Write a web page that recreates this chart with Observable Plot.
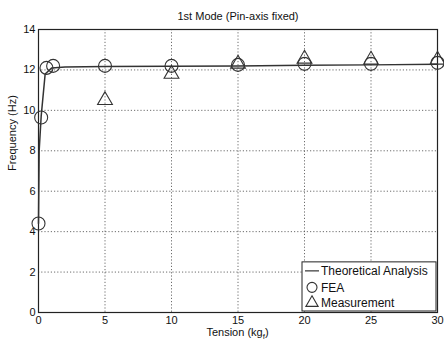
<!DOCTYPE html>
<html>
<head>
<meta charset="utf-8">
<script src="https://cdn.jsdelivr.net/npm/d3@7"></script>
<script src="https://cdn.jsdelivr.net/npm/@observablehq/plot@0.6"></script>
<style>
  html, body { margin: 0; padding: 0; background: #fff; }
  #chart svg { font-family: "Liberation Sans", Arial, sans-serif; }
</style>
</head>
<body>
<div id="chart"></div>
<script>
const title = "1st Mode (Pin-axis fixed)";
const xLabel = "Tension (kg";
const xLabelSub = "f";
const yLabel = "Frequency (Hz)";
const xTicks = [0, 5, 10, 15, 20, 25, 30];
const yTicks = [0, 2, 4, 6, 8, 10, 12, 14];

const theoryT = [0, 0.05, 0.2, 0.5, 1, 2, 5, 10, 15, 20, 25, 30];
const theoryF = [4.4, 8.0, 9.7, 11.8, 12.1, 12.15, 12.17, 12.18, 12.2, 12.23, 12.25, 12.28];

const feaT = [0, 0.2, 0.6, 1.1, 5, 10, 15, 20, 25, 30];
const feaF = [4.4, 9.65, 12.1, 12.2, 12.2, 12.2, 12.25, 12.3, 12.3, 12.35];

const measT = [5, 10, 15, 20, 25, 30];
const measF = [10.5, 11.8, 12.3, 12.55, 12.5, 12.5];

const legendLabels = ["Theoretical Analysis", "FEA", "Measurement"];

const theory = theoryT.map((t, i) => ({t, f: theoryF[i]}));
const fea = feaT.map((t, i) => ({t, f: feaF[i]}));
const meas = measT.map((t, i) => ({t, f: measF[i]}));

const plot = Plot.plot({
  width: 444,
  height: 343,
  marginLeft: 38,
  marginRight: 7,
  marginTop: 29,
  marginBottom: 31,
  style: {fontSize: "11px", fontFamily: "Liberation Sans, Arial, sans-serif", color: "#111"},
  x: {domain: [0, 30], ticks: xTicks, tickSize: 0, tickPadding: 4, label: null},
  y: {domain: [0, 14], ticks: yTicks, tickSize: 0, tickPadding: 3, label: null},
  marks: [
    Plot.gridX(xTicks, {stroke: "#333", strokeOpacity: 0.9, strokeDasharray: "1.2,2", strokeWidth: 0.8}),
    Plot.gridY(yTicks, {stroke: "#333", strokeOpacity: 0.9, strokeDasharray: "1.2,2", strokeWidth: 0.8}),
    Plot.frame({stroke: "#222", strokeWidth: 1.2}),
    Plot.line(theory, {x: "t", y: "f", stroke: "#333", strokeWidth: 1.5}),
    Plot.dot(fea, {x: "t", y: "f", r: 6.5, stroke: "#333", strokeWidth: 1.1, fill: "none"}),
    Plot.dot(meas, {x: "t", y: "f", r: 5.5, symbol: "triangle", stroke: "#333", strokeWidth: 1.1, fill: "none"}),
    Plot.text([title], {frameAnchor: "top", dy: -17, fontSize: 11, fill: "#111"}),
    Plot.text([yLabel], {frameAnchor: "left", dx: -26, rotate: -90, fontSize: 11, fill: "#111"})
  ]
});

document.getElementById("chart").appendChild(plot);

const svg = d3.select(plot);
const xs = plot.scale("x"), ys = plot.scale("y");

// x label with subscript f
const xl = svg.append("text")
  .attr("x", (xs.apply(0) + xs.apply(30)) / 2)
  .attr("y", ys.apply(0) + 24)
  .attr("text-anchor", "middle")
  .attr("font-size", "11px")
  .attr("fill", "#111");
xl.append("tspan").text(xLabel);
xl.append("tspan").attr("font-size", "8px").attr("dy", "3").text(xLabelSub);
xl.append("tspan").attr("dy", "-3").text(")");

// legend in lower right
const lx0 = xs.apply(19.85), lx1 = xs.apply(30) - 1;
const ly0 = ys.apply(2.48), ly1 = ys.apply(0.05);
const lg = svg.append("g").attr("font-family", "Liberation Sans, Arial, sans-serif").attr("font-size", "12px");
lg.append("rect").attr("x", lx0).attr("y", ly0).attr("width", lx1 - lx0).attr("height", ly1 - ly0)
  .attr("fill", "#fff").attr("stroke", "#222").attr("stroke-width", 1);
const rowY = [ly0 + 9, ly0 + 25.5, ly0 + 41];
lg.append("line").attr("x1", lx0 + 3).attr("x2", lx0 + 17).attr("y1", rowY[0]).attr("y2", rowY[0]).attr("stroke", "#333").attr("stroke-width", 1.2);
lg.append("circle").attr("cx", lx0 + 10).attr("cy", rowY[1]).attr("r", 5).attr("fill", "none").attr("stroke", "#333").attr("stroke-width", 1.1);
lg.append("path").attr("d", d3.symbol(d3.symbolTriangle, 65)()).attr("transform", `translate(${lx0 + 10},${rowY[2]})`)
  .attr("fill", "none").attr("stroke", "#333").attr("stroke-width", 1.1);
legendLabels.forEach((s, i) => {
  lg.append("text").attr("x", lx0 + 19).attr("y", rowY[i]).attr("dy", "0.35em")
    .attr("text-anchor", "start").attr("fill", "#111").text(s);
});
</script>
</body>
</html>
